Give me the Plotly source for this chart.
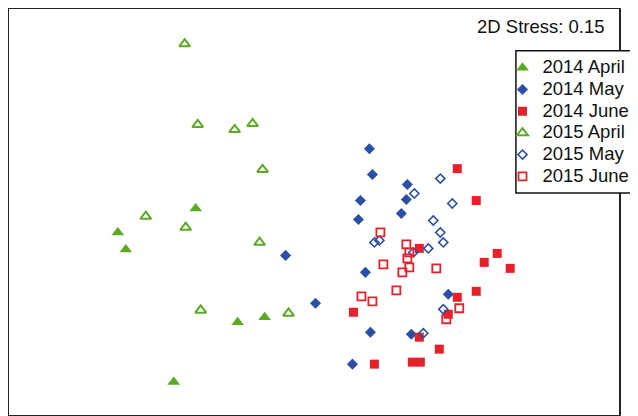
import plotly.graph_objects as go

# NMDS ordination coordinates (arbitrary units)
apr14_x = [-1.18, -1.96, -1.88, -0.76, -0.49, -1.40]
apr14_y = [0.04, -0.20, -0.37, -1.10, -1.05, -1.70]

may14_x = [-0.28, 0.02, 0.56, 0.59, 0.94, 0.47, 0.93, 0.45, 0.88, 0.52, 1.35, 0.57, 0.98, 0.39]
may14_y = [-0.43, -0.91, 0.64, 0.38, 0.28, 0.12, 0.13, -0.07, -0.01, -0.60, -0.82, -1.20, -1.22, -1.52]

jun14_x = [1.44, 1.63, 1.06, 1.84, 1.71, 1.97, 1.63, 1.44, 1.35, 0.40, 1.06, 1.26, 0.61, 0.99, 1.07]
jun14_y = [0.44, 0.12, -0.36, -0.41, -0.50, -0.56, -0.79, -0.85, -1.02, -1.00, -1.25, -1.37, -1.52, -1.50, -1.50]

apr15_x = [-1.29, -1.16, -0.79, -0.61, -0.51, -1.68, -1.28, -0.54, -1.13, -0.25]
apr15_y = [1.69, 0.88, 0.83, 0.89, 0.43, -0.04, -0.15, -0.30, -0.98, -1.01]

may15_x = [1.27, 1.01, 1.39, 1.20, 1.27, 1.30, 0.61, 0.66, 1.15, 1.00, 1.30, 1.10]
may15_y = [0.34, 0.19, 0.09, -0.08, -0.20, -0.30, -0.30, -0.28, -0.36, -0.40, -0.97, -1.21]

jun15_x = [0.67, 0.93, 0.96, 0.94, 0.96, 0.89, 0.70, 1.23, 0.83, 0.48, 0.59, 1.46, 1.33]
jun15_y = [-0.20, -0.32, -0.40, -0.46, -0.55, -0.60, -0.52, -0.56, -0.78, -0.84, -0.89, -0.96, -1.07]

series_names = ["2014 April", "2014 May", "2014 June", "2015 April", "2015 May", "2015 June"]
stress_label = "2D Stress: 0.15"

GREEN = "#5BAA1F"
BLUE = "#2B4FA6"
RED = "#E8202A"

styles = [
    (apr14_x, apr14_y, "triangle-up", GREEN, 11, 0),
    (may14_x, may14_y, "diamond", BLUE, 8.5, 0),
    (jun14_x, jun14_y, "square", RED, 9, 0),
    (apr15_x, apr15_y, "triangle-up-open", GREEN, 9.5, 2),
    (may15_x, may15_y, "diamond-open", BLUE, 7, 1.6),
    (jun15_x, jun15_y, "square-open", RED, 8, 1.8),
]

TEXT_FS = 18.5

fig = go.Figure()
for name, (xs, ys, sym, col, sz, lw) in zip(series_names, styles):
    fig.add_trace(go.Scatter(
        x=xs, y=ys, mode="markers",
        name=f'<span style="font-size:{TEXT_FS}px">{name}</span>',
        marker=dict(symbol=sym, color=col, size=sz,
                    line=dict(color=col, width=lw)),
    ))

fig.add_annotation(
    text=stress_label, xref="paper", yref="paper", x=1, y=0.956,
    xanchor="right", yanchor="middle", xshift=-12, showarrow=False,
    font=dict(size=TEXT_FS, color="#111111"),
)

# legend frame (white box, running off the right edge as in the reference)
fig.add_shape(type="rect", xref="paper", yref="paper",
              x0=0.831, x1=1.2, y0=0.547, y1=0.897,
              line=dict(color="#111111", width=1.5), fillcolor="white",
              layer="above")

axis_common = dict(showgrid=False, zeroline=False, showticklabels=False,
                   ticks="", showline=True, mirror=True,
                   linecolor="#222222", linewidth=1.5)

fig.update_layout(
    width=638, height=416,
    margin=dict(l=1, r=27, t=1, b=9, autoexpand=False),
    paper_bgcolor="white", plot_bgcolor="white",
    font=dict(family="Liberation Sans, Arial, sans-serif", color="#111111"),
    xaxis=dict(range=[-3.05, 3.06], **axis_common),
    yaxis=dict(range=[-2.03, 2.04], **axis_common),
    legend=dict(x=0.809, y=0.8945, xanchor="left", yanchor="top",
                borderwidth=0, bgcolor="rgba(0,0,0,0)",
                font=dict(size=14.4), tracegroupgap=0),
    showlegend=True,
)

fig.write_html("out.html")
